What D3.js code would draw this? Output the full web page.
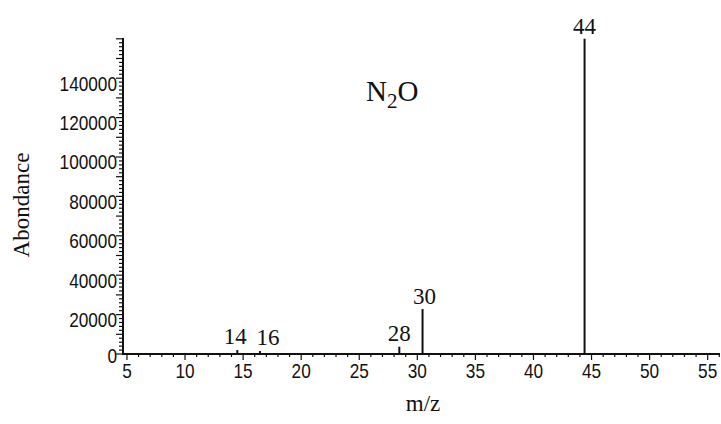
<!DOCTYPE html>
<html>
<head>
<meta charset="utf-8">
<script src="https://cdn.jsdelivr.net/npm/d3@7"></script>
<style>
  body { margin: 0; background: #fff; }
  svg { display: block; }
  .tick-label { font-family: "Liberation Sans", Arial, sans-serif; font-size: 21px; fill: #111; }
  .serif { font-family: "Liberation Serif", "DejaVu Serif", serif; fill: #111; }
</style>
</head>
<body>
<svg id="chart" width="721" height="424"></svg>
<script>
// Mass spectrum of N2O
const peakMz = [14.5, 16.45, 28.45, 30.45, 44.4];
const peakLabels = ['14', '16', '28', '30', '44'];
const peakAbundance = [2000, 1500, 3700, 22800, 160000];
const xTicks = [5, 10, 15, 20, 25, 30, 35, 40, 45, 50, 55];
const yTicks = [0, 20000, 40000, 60000, 80000, 100000, 120000, 140000];

const svg = d3.select('#chart');

const x = d3.scaleLinear().domain([4.66, 56.06]).range([123, 720]);
const y = d3.scaleLinear().domain([0, 160400]).range([354, 38]);

// label nudges (px) so they sit like the scan
const labelDx = { '14': -2, '16': 8, '28': 0, '30': 2, '44': 0 };
const narrow = 0.82; // squeeze tick digits horizontally

// y axis minor ticks
const yMinor = d3.range(0, 160001, 2000);
svg.append('g').selectAll('line')
  .data(yMinor)
  .enter().append('line')
  .attr('x1', 123)
  .attr('x2', d => d % 10000 === 0 ? 116 : 119)
  .attr('y1', d => y(d))
  .attr('y2', d => y(d))
  .attr('stroke', '#111')
  .attr('stroke-width', 1.2);

// x axis minor ticks
const xMinor = d3.range(5, 57, 1);
svg.append('g').selectAll('line')
  .data(xMinor)
  .enter().append('line')
  .attr('x1', d => x(d))
  .attr('x2', d => x(d))
  .attr('y1', 354)
  .attr('y2', d => d % 5 === 0 ? 360 : 357)
  .attr('stroke', '#111')
  .attr('stroke-width', 1.2);

// axis lines
svg.append('line')
  .attr('x1', 123).attr('x2', 123)
  .attr('y1', y.range()[1]).attr('y2', 355)
  .attr('stroke', '#111').attr('stroke-width', 2);
svg.append('line')
  .attr('x1', 122).attr('x2', 720)
  .attr('y1', 354).attr('y2', 354)
  .attr('stroke', '#111').attr('stroke-width', 2);

// y tick labels
svg.append('g').selectAll('text')
  .data(yTicks)
  .enter().append('text')
  .attr('class', 'tick-label')
  .attr('transform', d => `translate(117,${y(d) + (d === 0 ? 2 : 5)}) scale(${narrow},1)`)
  .attr('dy', '0.35em')
  .attr('text-anchor', 'end')
  .text(d => d);

// x tick labels
svg.append('g').selectAll('text')
  .data(xTicks)
  .enter().append('text')
  .attr('class', 'tick-label')
  .attr('transform', d => `translate(${x(d)},371) scale(${narrow},1)`)
  .attr('dy', '0.35em')
  .attr('text-anchor', 'middle')
  .text(d => d);

// peaks
const peaks = peakMz.map((mz, i) => ({ mz, label: peakLabels[i], val: peakAbundance[i] }));

svg.append('g').selectAll('line')
  .data(peaks)
  .enter().append('line')
  .attr('x1', d => x(d.mz))
  .attr('x2', d => x(d.mz))
  .attr('y1', 354)
  .attr('y2', d => y(d.val))
  .attr('stroke', '#111')
  .attr('stroke-width', 2);

svg.append('g').selectAll('text')
  .data(peaks)
  .enter().append('text')
  .attr('class', 'serif')
  .attr('x', d => x(d.mz) + labelDx[d.label])
  .attr('y', d => d.val < 5000 ? y(d.val) - 6 : y(d.val) - 5)
  .attr('text-anchor', 'middle')
  .style('font-size', '23px')
  .text(d => d.label);

// compound name
const name = svg.append('text')
  .attr('class', 'serif')
  .attr('x', 366)
  .attr('y', 101)
  .style('font-size', '29px');
name.append('tspan').text('N');
name.append('tspan').attr('dy', 7).style('font-size', '21px').text('2');
name.append('tspan').attr('dy', -7).text('O');

// axis titles
svg.append('text')
  .attr('class', 'serif')
  .attr('transform', 'translate(29,205) rotate(-90)')
  .attr('text-anchor', 'middle')
  .style('font-size', '23px')
  .text('Abondance');

svg.append('text')
  .attr('class', 'serif')
  .attr('x', 423)
  .attr('y', 411)
  .attr('text-anchor', 'middle')
  .style('font-size', '23px')
  .text('m/z');
</script>
</body>
</html>
